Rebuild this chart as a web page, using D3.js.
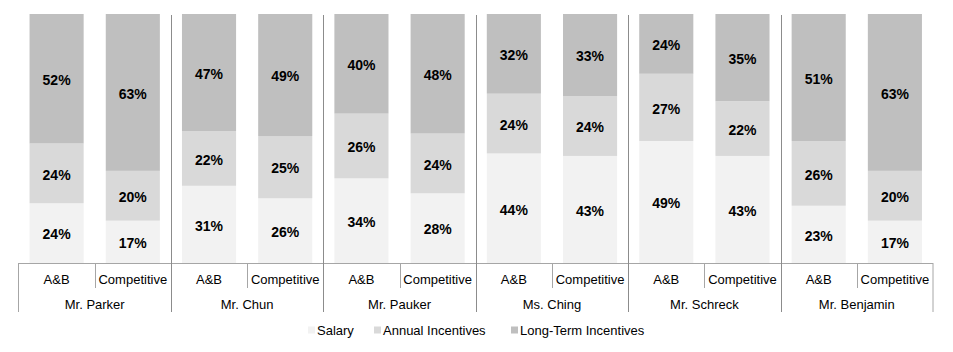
<html>
<head>
<style>
  body { margin: 0; background: #fff; }
  text { font-family: "Liberation Sans", Arial, sans-serif; }
</style>
</head>
<body>
<svg id="chart" width="953" height="352"></svg>
<script src="https://cdn.jsdelivr.net/npm/d3@7"></script>
<script>
// data
var executives = ['Mr. Parker', 'Mr. Chun', 'Mr. Pauker', 'Ms. Ching', 'Mr. Schreck', 'Mr. Benjamin']
var comparisons = ['A&B', 'Competitive']
var seriesNames = ['Salary', 'Annual Incentives', 'Long-Term Incentives']
var seriesColors = ['#f2f2f2', '#d9d9d9', '#bfbfbf']

// one entry per bar, in order Parker A&B, Parker Competitive, Chun A&B, ...
var salary    = [24, 17, 31, 26, 34, 28, 44, 43, 49, 43, 23, 17]
var annual    = [24, 20, 22, 25, 26, 24, 24, 24, 27, 22, 26, 20]
var longTerm  = [52, 63, 47, 49, 40, 48, 32, 33, 24, 35, 51, 63]

var svg = d3.select('#chart')

// note: "top" is a window global, so use plotTop
var left = 18.5, right = 933
var plotTop = 14, axisY = 263
var catRowY = 288, bottomY = 312

var rows = []
executives.forEach((ex, i) => {
  comparisons.forEach((c, j) => {
    var k = i * 2 + j
    rows.push({ key: ex + '|' + c, exec: ex, comp: c,
      'Salary': salary[k], 'Annual Incentives': annual[k], 'Long-Term Incentives': longTerm[k] })
  })
})

var xGroup = d3.scaleBand().domain(executives).range([left, right])
var x = d3.scaleBand().domain(rows.map(d => d.key)).range([left, right]).paddingInner(0.29).paddingOuter(0.145)
var y = d3.scaleLinear().domain([0, 100]).range([axisY, plotTop])

var stack = d3.stack().keys(seriesNames)(rows)
var color = d3.scaleOrdinal().domain(seriesNames).range(seriesColors)

var layers = svg.selectAll('g.layer')
  .data(stack)
  .enter().append('g')
  .attr('class', 'layer')
  .attr('fill', d => color(d.key))

layers.selectAll('rect')
  .data(d => d)
  .enter().append('rect')
  .attr('x', d => x(d.data.key))
  .attr('width', x.bandwidth())
  .attr('y', d => y(d[1]))
  .attr('height', d => y(d[0]) - y(d[1]))

layers.selectAll('text')
  .data(d => d)
  .enter().append('text')
  .attr('x', d => x(d.data.key) + x.bandwidth() / 2)
  .attr('y', d => (y(d[0]) + y(d[1])) / 2)
  .attr('dy', '0.45em')
  .attr('text-anchor', 'middle')
  .attr('font-size', 14)
  .attr('font-weight', 'bold')
  .attr('fill', '#000')
  .text(d => (d[1] - d[0]) + '%')

// axis box and separators
var lines = svg.append('g').attr('stroke', '#a6a6a6').attr('stroke-width', 1)
lines.append('line').attr('x1', left).attr('x2', right).attr('y1', axisY + 0.5).attr('y2', axisY + 0.5)
lines.append('line').attr('x1', left).attr('x2', left).attr('y1', axisY).attr('y2', bottomY)
lines.append('line').attr('x1', right).attr('x2', right).attr('y1', axisY).attr('y2', bottomY)

// group separators run all the way up through the plot
executives.slice(1).forEach(ex => {
  var gx = Math.round(xGroup(ex)) + 0.5
  lines.append('line').attr('x1', gx).attr('x2', gx).attr('y1', plotTop + 1).attr('y2', bottomY)
    .attr('stroke', '#8c8c8c')
})
// short ticks between A&B and Competitive
executives.forEach(ex => {
  var mx = Math.round(xGroup(ex) + xGroup.bandwidth() / 2) + 0.5
  lines.append('line').attr('x1', mx).attr('x2', mx).attr('y1', axisY).attr('y2', catRowY)
})

// category labels
svg.append('g').selectAll('text')
  .data(rows)
  .enter().append('text')
  .attr('x', d => x(d.key) + x.bandwidth() / 2)
  .attr('y', 279)
  .attr('dy', '0.35em')
  .attr('text-anchor', 'middle')
  .attr('font-size', 13)
  .attr('fill', '#000')
  .text(d => d.comp)

// executive labels
svg.append('g').selectAll('text')
  .data(executives)
  .enter().append('text')
  .attr('x', d => xGroup(d) + xGroup.bandwidth() / 2)
  .attr('y', 304)
  .attr('dy', '0.35em')
  .attr('text-anchor', 'middle')
  .attr('font-size', 13)
  .attr('fill', '#000')
  .text(d => d)

// legend
var legendX = [308, 374, 511]
var legend = svg.append('g').selectAll('g')
  .data(seriesNames)
  .enter().append('g')
  .attr('transform', (d, i) => 'translate(' + legendX[i] + ',330)')
legend.append('rect')
  .attr('x', 0).attr('y', -3.5).attr('width', 7).attr('height', 7)
  .attr('fill', d => color(d))
legend.append('text')
  .attr('x', 9)
  .attr('dy', '0.35em')
  .attr('font-size', 13)
  .attr('fill', '#000')
  .text(d => d)
</script>
</body>
</html>
